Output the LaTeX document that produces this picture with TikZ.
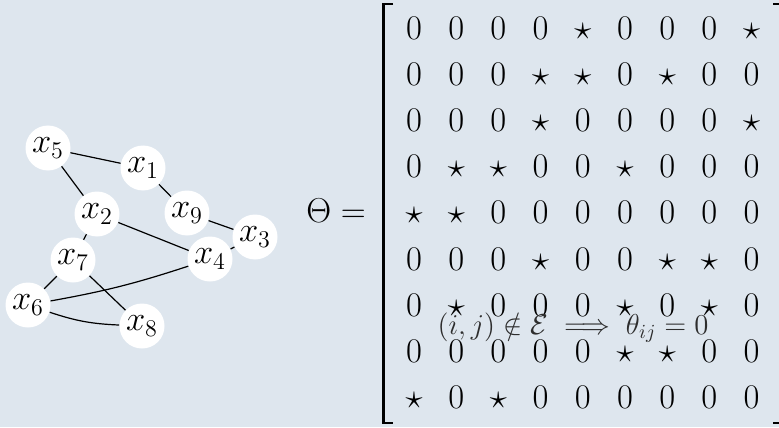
\documentclass[tikz,border=0pt]{standalone}
\usepackage{amsmath}
\usepackage{xcolor}
\usepackage{tikz}
\usetikzlibrary{arrows.meta, positioning}
\definecolor{panel}{RGB}{222,230,238}
\definecolor{overlay}{RGB}{45,45,45}

\begin{document}
\begin{tikzpicture}[x=0.5pt, y=-0.5pt,
    var/.style={circle, fill=white, minimum size=22.5pt, inner sep=0pt, font=\LARGE},
    link/.style={line width=0.6pt},
    entry/.style={anchor=base, inner sep=0pt, font=\LARGE}]
        \fill[panel] (0,0) rectangle (779,427);
        \clip (0,0) rectangle (779,427);
        % graph
        \node[var] (x5) at (48,148) {$x_5$};
        \node[var] (x1) at (143,168) {$x_1$};
        \node[var] (x2) at (97,214) {$x_2$};
        \node[var] (x9) at (187,213) {$x_9$};
        \node[var] (x3) at (255,237) {$x_3$};
        \node[var] (x4) at (210,259) {$x_4$};
        \node[var] (x7) at (73,260) {$x_7$};
        \node[var] (x6) at (28,305) {$x_6$};
        \node[var] (x8) at (142,326) {$x_8$};
        \draw[link] (x5) -- (x1);
        \draw[link] (x5) -- (x2);
        \draw[link] (x1) -- (x9);
        \draw[link] (x9) -- (x3);
        \draw[link] (x3) -- (x4);
        \draw[link] (x2) -- (x4);
        \draw[link] (x2) -- (x7);
        \draw[link] (x7) -- (x6);
        \draw[link] (x7) -- (x8);
        \draw[link] (x6) to[bend right=4] (x4);
        \draw[link] (x6) to[bend right=8] (x8);
        % precision matrix
        \node[anchor=base west, inner sep=0pt, font=\LARGE] (theta) at (306,222) {$\Theta =$};
        \draw[line width=1.4pt] (393,4) -- (383.5,4) -- (383.5,423) -- (393,423);
        \draw[line width=1.4pt] (773,4) -- (783,4) -- (783,423) -- (773,423);
        \foreach \rowvals [count=\r] in {
            {0,0,0,0,\star,0,0,0,\star},
            {0,0,0,\star,\star,0,\star,0,0},
            {0,0,0,\star,0,0,0,0,\star},
            {0,\star,\star,0,0,\star,0,0,0},
            {\star,\star,0,0,0,0,0,0,0},
            {0,0,0,\star,0,0,\star,\star,0},
            {0,\star,0,0,0,\star,0,\star,0},
            {0,0,0,0,0,\star,\star,0,0},
            {\star,0,\star,0,0,0,0,0,0}} {
          \foreach \e [count=\c] in \rowvals {
            \node[entry] (m\r\c) at ({414+(\c-1)*42.2},{39.5+(\r-1)*46.1}) {$\e$};
          }
        }
        \node[anchor=base, inner sep=0pt, font=\Large, text=overlay] (rule) at (573,334.5)
              {$(i,j)\notin\mathcal{E}\implies\theta_{ij}=0$};
      \end{tikzpicture}
\end{document}
